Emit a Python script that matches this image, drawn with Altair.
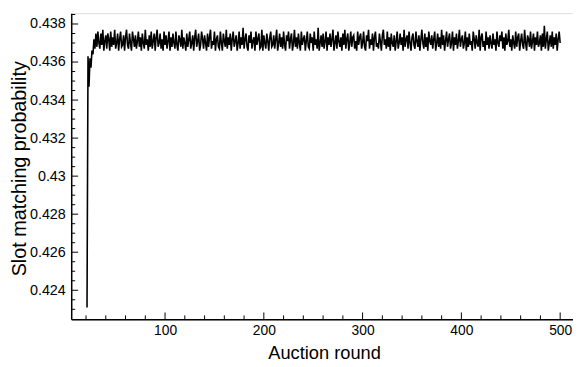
import altair as alt
import pandas as pd

# Auction rounds start at 21; one value per round
first_round = 21
prob = [
    0.4231, 0.4363, 0.4347, 0.4362, 0.4357, 0.4366, 0.4364, 0.4372, 0.4367, 0.4375,
    0.4368, 0.4376, 0.4370, 0.4367, 0.4375, 0.4369, 0.4377, 0.4366, 0.4371, 0.4374,
    0.4367, 0.4375, 0.4372, 0.4366, 0.4376, 0.4368, 0.4373, 0.4369, 0.4377, 0.4367,
    0.4370, 0.4375, 0.4366, 0.4372, 0.4376, 0.4368, 0.4369, 0.4374, 0.4366, 0.4373,
    0.4377, 0.4369, 0.4367, 0.4375, 0.4370, 0.4366, 0.4376, 0.4372, 0.4368, 0.4374,
    0.4367, 0.4371, 0.4376, 0.4368, 0.4373, 0.4366, 0.4375, 0.4370, 0.4367, 0.4377,
    0.4369, 0.4372, 0.4366, 0.4374, 0.4368, 0.4376, 0.4367, 0.4371, 0.4375, 0.4366,
    0.4373, 0.4377, 0.4368, 0.4370, 0.4375, 0.4367, 0.4372, 0.4366, 0.4376, 0.4369,
    0.4374, 0.4367, 0.4371, 0.4376, 0.4366, 0.4373, 0.4368, 0.4375, 0.4370, 0.4367,
    0.4376, 0.4369, 0.4366, 0.4374, 0.4372, 0.4368, 0.4377, 0.4367, 0.4373, 0.4370,
    0.4366, 0.4375, 0.4368, 0.4372, 0.4376, 0.4367, 0.4370, 0.4374, 0.4366, 0.4373,
    0.4377, 0.4368, 0.4371, 0.4375, 0.4366, 0.4369, 0.4376, 0.4372, 0.4367, 0.4374,
    0.4370, 0.4366, 0.4375, 0.4368, 0.4373, 0.4377, 0.4367, 0.4371, 0.4369, 0.4376,
    0.4366, 0.4372, 0.4374, 0.4368, 0.4367, 0.4376, 0.4370, 0.4366, 0.4375, 0.4371,
    0.4368, 0.4377, 0.4367, 0.4373, 0.4369, 0.4375, 0.4366, 0.4372, 0.4376, 0.4368,
    0.4371, 0.4374, 0.4366, 0.4370, 0.4376, 0.4367, 0.4373, 0.4369, 0.4378, 0.4367,
    0.4372, 0.4375, 0.4368, 0.4366, 0.4374, 0.4370, 0.4376, 0.4367, 0.4371, 0.4373,
    0.4366, 0.4376, 0.4369, 0.4372, 0.4375, 0.4367, 0.4368, 0.4377, 0.4366, 0.4374,
    0.4370, 0.4367, 0.4375, 0.4371, 0.4366, 0.4373, 0.4376, 0.4368, 0.4369, 0.4374,
    0.4367, 0.4372, 0.4377, 0.4366, 0.4370, 0.4375, 0.4368, 0.4373, 0.4367, 0.4376,
    0.4369, 0.4366, 0.4374, 0.4371, 0.4376, 0.4367, 0.4372, 0.4375, 0.4366, 0.4370,
    0.4377, 0.4368, 0.4373, 0.4367, 0.4375, 0.4370, 0.4366, 0.4376, 0.4369, 0.4372,
    0.4374, 0.4366, 0.4371, 0.4376, 0.4368, 0.4367, 0.4375, 0.4370, 0.4373, 0.4366,
    0.4376, 0.4369, 0.4372, 0.4367, 0.4378, 0.4366, 0.4370, 0.4374, 0.4368, 0.4375,
    0.4367, 0.4371, 0.4376, 0.4366, 0.4373, 0.4369, 0.4375, 0.4368, 0.4372, 0.4377,
    0.4366, 0.4370, 0.4374, 0.4367, 0.4376, 0.4371, 0.4368, 0.4373, 0.4366, 0.4375,
    0.4369, 0.4377, 0.4367, 0.4372, 0.4375, 0.4366, 0.4370, 0.4376, 0.4368, 0.4373,
    0.4374, 0.4367, 0.4371, 0.4366, 0.4376, 0.4369, 0.4373, 0.4375, 0.4367, 0.4370,
    0.4376, 0.4368, 0.4366, 0.4374, 0.4371, 0.4377, 0.4367, 0.4372, 0.4369, 0.4375,
    0.4366, 0.4373, 0.4376, 0.4368, 0.4370, 0.4367, 0.4375, 0.4371, 0.4366, 0.4374,
    0.4377, 0.4369, 0.4372, 0.4367, 0.4376, 0.4368, 0.4373, 0.4366, 0.4375, 0.4370,
    0.4368, 0.4374, 0.4366, 0.4371, 0.4376, 0.4367, 0.4370, 0.4375, 0.4369, 0.4373,
    0.4366, 0.4377, 0.4368, 0.4372, 0.4374, 0.4367, 0.4376, 0.4370, 0.4366, 0.4373,
    0.4375, 0.4369, 0.4367, 0.4376, 0.4371, 0.4368, 0.4374, 0.4366, 0.4372, 0.4377,
    0.4370, 0.4367, 0.4375, 0.4368, 0.4373, 0.4366, 0.4376, 0.4371, 0.4369, 0.4374,
    0.4367, 0.4372, 0.4376, 0.4366, 0.4370, 0.4375, 0.4368, 0.4373, 0.4367, 0.4377,
    0.4369, 0.4374, 0.4366, 0.4371, 0.4376, 0.4368, 0.4372, 0.4375, 0.4367, 0.4370,
    0.4376, 0.4366, 0.4373, 0.4369, 0.4375, 0.4367, 0.4371, 0.4377, 0.4368, 0.4372,
    0.4374, 0.4367, 0.4370, 0.4376, 0.4366, 0.4373, 0.4368, 0.4375, 0.4369, 0.4371,
    0.4366, 0.4376, 0.4372, 0.4367, 0.4374, 0.4370, 0.4368, 0.4377, 0.4366, 0.4373,
    0.4375, 0.4368, 0.4371, 0.4366, 0.4376, 0.4369, 0.4373, 0.4367, 0.4374, 0.4370,
    0.4367, 0.4375, 0.4369, 0.4372, 0.4366, 0.4376, 0.4370, 0.4368, 0.4374, 0.4371,
    0.4376, 0.4367, 0.4373, 0.4366, 0.4375, 0.4369, 0.4371, 0.4377, 0.4368, 0.4372,
    0.4366, 0.4374, 0.4370, 0.4367, 0.4376, 0.4368, 0.4373, 0.4375, 0.4366, 0.4371,
    0.4375, 0.4369, 0.4367, 0.4377, 0.4370, 0.4366, 0.4374, 0.4372, 0.4368, 0.4376,
    0.4367, 0.4371, 0.4375, 0.4366, 0.4373, 0.4369, 0.4376, 0.4368, 0.4370, 0.4374,
    0.4366, 0.4375, 0.4368, 0.4379, 0.4367, 0.4372, 0.4376, 0.4366, 0.4370, 0.4374,
    0.4368, 0.4376, 0.4367, 0.4373, 0.4369, 0.4375, 0.4366, 0.4372, 0.4376, 0.4370,
]

x_major = [100, 200, 300, 400, 500]
x_minor = [20, 40, 60, 80, 120, 140, 160, 180, 220, 240, 260, 280,
           320, 340, 360, 380, 420, 440, 460, 480]
y_major = [0.424, 0.426, 0.428, 0.430, 0.432, 0.434, 0.436, 0.438]
y_minor = [0.4230, 0.4235, 0.4245, 0.4250, 0.4255, 0.4265, 0.4270, 0.4275,
           0.4285, 0.4290, 0.4295, 0.4305, 0.4310, 0.4315, 0.4325, 0.4330,
           0.4335, 0.4345, 0.4350, 0.4355, 0.4365, 0.4370, 0.4375, 0.4385]

W, H = 508, 310
FONT = "Liberation Sans"

df = pd.DataFrame({"round": [first_round + i for i in range(len(prob))], "p": prob})

xs = alt.Scale(domain=[5, 513], nice=False, zero=False)
ys = alt.Scale(domain=[0.42247, 0.43857], nice=False, zero=False)

line = alt.Chart(df).mark_line(color="black", strokeWidth=1.6).encode(
    x=alt.X("round:Q", scale=xs,
            axis=alt.Axis(values=x_major, title="Auction round", ticks=False, grid=False,
                          labelPadding=4, labelFontSize=14, labelFont=FONT, labelColor="black",
                          titleFont=FONT, titleFontSize=18.5, titleFontWeight="normal",
                          titleColor="black", titleX=W / 2 + 2, titleY=34, titleBaseline="middle",
                          domainColor="black", domainWidth=1.5, labelFlush=False)),
    y=alt.Y("p:Q", scale=ys,
            axis=alt.Axis(values=y_major, title="Slot matching probability", ticks=False,
                          grid=False, labelPadding=6, labelFontSize=14.5, labelFont=FONT,
                          labelColor="black", labelExpr="format(datum.value, '~g')",
                          titleFont=FONT, titleFontSize=20, titleFontWeight="normal",
                          titleColor="black", titleX=-52, titleY=157, titleBaseline="middle",
                          domainColor="black", domainWidth=1.5, labelFlush=False)),
)

ymaj = alt.Chart(pd.DataFrame({"p": y_major})).mark_rule(color="black", strokeWidth=1).encode(
    y=alt.Y("p:Q", scale=ys), x=alt.value(0), x2=alt.value(7))
ymin = alt.Chart(pd.DataFrame({"p": y_minor})).mark_rule(color="black", strokeWidth=1).encode(
    y=alt.Y("p:Q", scale=ys), x=alt.value(0), x2=alt.value(4))
xmaj = alt.Chart(pd.DataFrame({"round": x_major})).mark_rule(color="black", strokeWidth=1).encode(
    x=alt.X("round:Q", scale=xs), y=alt.value(H), y2=alt.value(H - 7))
xmin = alt.Chart(pd.DataFrame({"round": x_minor})).mark_rule(color="black", strokeWidth=1).encode(
    x=alt.X("round:Q", scale=xs), y=alt.value(H), y2=alt.value(H - 4))

chart = alt.layer(line, ymaj, ymin, xmaj, xmin).properties(
    width=W, height=H,
    autosize=alt.AutoSizeParams(type="none"),
    padding={"left": 64, "top": 3, "right": 0, "bottom": 45},
).configure_view(stroke="black", strokeWidth=1.5).configure(background="white")

chart.save("out.html", embed_options={"renderer": "svg", "actions": False})
